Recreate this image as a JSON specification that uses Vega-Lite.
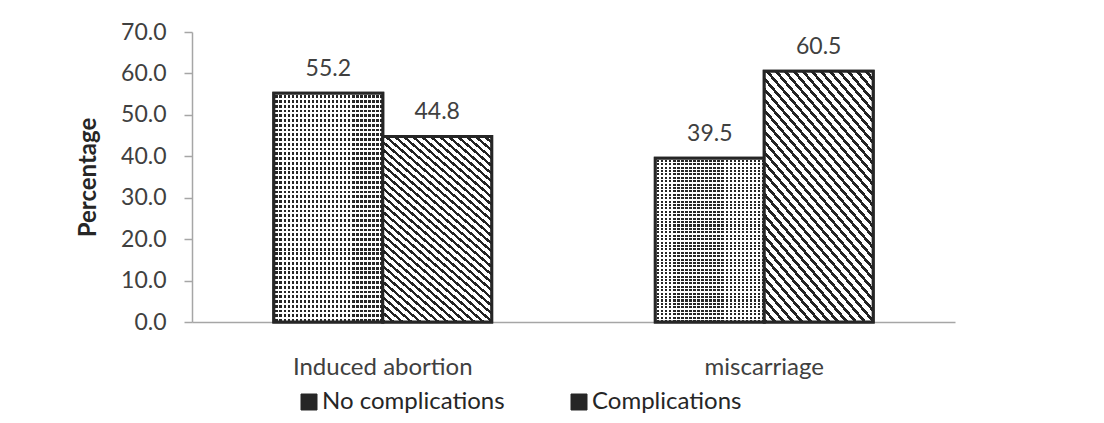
{
  "$schema": "https://vega.github.io/schema/vega-lite/v6.json",
  "width": 763,
  "height": 290,
  "autosize": "none",
  "padding": {"left": 192, "top": 32, "right": 149, "bottom": 101},
  "background": "#ffffff",
  "config": {"view": {"stroke": null}, "font": "Lato"},
  "data": {"values": [
    {"cat": "Induced abortion", "series": "No complications", "value": 55.2},
    {"cat": "Induced abortion", "series": "Complications", "value": 44.8},
    {"cat": "miscarriage", "series": "No complications", "value": 39.5},
    {"cat": "miscarriage", "series": "Complications", "value": 60.5}
  ]},
  "encoding": {
    "x": {"field": "cat", "type": "nominal", "sort": ["Induced abortion", "miscarriage"],
      "scale": {"paddingInner": 0.429, "paddingOuter": 0.2145},
      "axis": {"title": null, "labelAngle": 0, "ticks": false, "domainColor": "#a6a6a6", "domainWidth": 1.5,
        "labelFont": "Lato", "labelFontSize": 24, "labelColor": "#404040", "labelPadding": 33}},
    "xOffset": {"field": "series", "type": "nominal", "sort": ["No complications", "Complications"],
      "scale": {"domain": ["No complications", "Complications"], "paddingInner": 0, "paddingOuter": 0}},
    "y": {"field": "value", "type": "quantitative",
      "scale": {"domain": [0, 70], "nice": false},
      "axis": {"title": "Percentage", "values": [0, 10, 20, 30, 40, 50, 60, 70], "format": ".1f", "grid": false,
        "domainColor": "#a6a6a6", "tickColor": "#a6a6a6", "tickSize": 8, "domainWidth": 1.5, "tickWidth": 1.5,
        "labelFont": "Lato", "labelFontSize": 23, "labelColor": "#404040", "labelPadding": 18,
        "titleFont": "Lato", "titleFontSize": 24, "titleFontWeight": "bold", "titleColor": "#262626", "titlePadding": 20}}
  },
  "layer": [
    {
      "mark": {"type": "bar", "stroke": "#262626", "strokeWidth": 3, "strokeJoin": "miter"},
      "encoding": {
        "color": {"field": "series", "type": "nominal",
          "scale": {"domain": ["No complications", "Complications"], "range": ["#262626", "#262626"]},
          "legend": {"title": null, "orient": "none", "legendX": 105, "legendY": 358, "direction": "horizontal",
            "symbolType": "square", "symbolSize": 256, "symbolStrokeWidth": 1, "symbolStrokeColor": "#262626", "labelFont": "Lato", "labelFontSize": 24,
            "labelColor": "#262626", "labelOffset": 1, "columnPadding": 62, "padding": 0, "labelLimit": 400}
        }
      }
    },
    {
      "transform": [{"filter": "datum.series === 'No complications'"}],
      "mark": {"type": "bar", "strokeWidth": 0,
        "fill": {"gradient": "linear", "x1": 0, "y1": 0, "x2": 0, "y2": 1, "stops": [
          {"offset": 0, "color": "#ffffff"}, {"offset": 0.008333, "color": "#ffffff"}, {"offset": 0.008333, "color": "rgba(255,255,255,0)"}, {"offset": 0.020833, "color": "rgba(255,255,255,0)"},
          {"offset": 0.020833, "color": "#ffffff"}, {"offset": 0.029167, "color": "#ffffff"}, {"offset": 0.029167, "color": "rgba(255,255,255,0)"}, {"offset": 0.041667, "color": "rgba(255,255,255,0)"},
          {"offset": 0.041667, "color": "#ffffff"}, {"offset": 0.05, "color": "#ffffff"}, {"offset": 0.05, "color": "rgba(255,255,255,0)"}, {"offset": 0.0625, "color": "rgba(255,255,255,0)"},
          {"offset": 0.0625, "color": "#ffffff"}, {"offset": 0.070833, "color": "#ffffff"}, {"offset": 0.070833, "color": "rgba(255,255,255,0)"}, {"offset": 0.083333, "color": "rgba(255,255,255,0)"},
          {"offset": 0.083333, "color": "#ffffff"}, {"offset": 0.091667, "color": "#ffffff"}, {"offset": 0.091667, "color": "rgba(255,255,255,0)"}, {"offset": 0.104167, "color": "rgba(255,255,255,0)"},
          {"offset": 0.104167, "color": "#ffffff"}, {"offset": 0.1125, "color": "#ffffff"}, {"offset": 0.1125, "color": "rgba(255,255,255,0)"}, {"offset": 0.125, "color": "rgba(255,255,255,0)"},
          {"offset": 0.125, "color": "#ffffff"}, {"offset": 0.133333, "color": "#ffffff"}, {"offset": 0.133333, "color": "rgba(255,255,255,0)"}, {"offset": 0.145833, "color": "rgba(255,255,255,0)"},
          {"offset": 0.145833, "color": "#ffffff"}, {"offset": 0.154167, "color": "#ffffff"}, {"offset": 0.154167, "color": "rgba(255,255,255,0)"}, {"offset": 0.166667, "color": "rgba(255,255,255,0)"},
          {"offset": 0.166667, "color": "#ffffff"}, {"offset": 0.175, "color": "#ffffff"}, {"offset": 0.175, "color": "rgba(255,255,255,0)"}, {"offset": 0.1875, "color": "rgba(255,255,255,0)"},
          {"offset": 0.1875, "color": "#ffffff"}, {"offset": 0.195833, "color": "#ffffff"}, {"offset": 0.195833, "color": "rgba(255,255,255,0)"}, {"offset": 0.208333, "color": "rgba(255,255,255,0)"},
          {"offset": 0.208333, "color": "#ffffff"}, {"offset": 0.216667, "color": "#ffffff"}, {"offset": 0.216667, "color": "rgba(255,255,255,0)"}, {"offset": 0.229167, "color": "rgba(255,255,255,0)"},
          {"offset": 0.229167, "color": "#ffffff"}, {"offset": 0.2375, "color": "#ffffff"}, {"offset": 0.2375, "color": "rgba(255,255,255,0)"}, {"offset": 0.25, "color": "rgba(255,255,255,0)"},
          {"offset": 0.25, "color": "#ffffff"}, {"offset": 0.258333, "color": "#ffffff"}, {"offset": 0.258333, "color": "rgba(255,255,255,0)"}, {"offset": 0.270833, "color": "rgba(255,255,255,0)"},
          {"offset": 0.270833, "color": "#ffffff"}, {"offset": 0.279167, "color": "#ffffff"}, {"offset": 0.279167, "color": "rgba(255,255,255,0)"}, {"offset": 0.291667, "color": "rgba(255,255,255,0)"},
          {"offset": 0.291667, "color": "#ffffff"}, {"offset": 0.3, "color": "#ffffff"}, {"offset": 0.3, "color": "rgba(255,255,255,0)"}, {"offset": 0.3125, "color": "rgba(255,255,255,0)"},
          {"offset": 0.3125, "color": "#ffffff"}, {"offset": 0.320833, "color": "#ffffff"}, {"offset": 0.320833, "color": "rgba(255,255,255,0)"}, {"offset": 0.333333, "color": "rgba(255,255,255,0)"},
          {"offset": 0.333333, "color": "#ffffff"}, {"offset": 0.341667, "color": "#ffffff"}, {"offset": 0.341667, "color": "rgba(255,255,255,0)"}, {"offset": 0.354167, "color": "rgba(255,255,255,0)"},
          {"offset": 0.354167, "color": "#ffffff"}, {"offset": 0.3625, "color": "#ffffff"}, {"offset": 0.3625, "color": "rgba(255,255,255,0)"}, {"offset": 0.375, "color": "rgba(255,255,255,0)"},
          {"offset": 0.375, "color": "#ffffff"}, {"offset": 0.383333, "color": "#ffffff"}, {"offset": 0.383333, "color": "rgba(255,255,255,0)"}, {"offset": 0.395833, "color": "rgba(255,255,255,0)"},
          {"offset": 0.395833, "color": "#ffffff"}, {"offset": 0.404167, "color": "#ffffff"}, {"offset": 0.404167, "color": "rgba(255,255,255,0)"}, {"offset": 0.416667, "color": "rgba(255,255,255,0)"},
          {"offset": 0.416667, "color": "#ffffff"}, {"offset": 0.425, "color": "#ffffff"}, {"offset": 0.425, "color": "rgba(255,255,255,0)"}, {"offset": 0.4375, "color": "rgba(255,255,255,0)"},
          {"offset": 0.4375, "color": "#ffffff"}, {"offset": 0.445833, "color": "#ffffff"}, {"offset": 0.445833, "color": "rgba(255,255,255,0)"}, {"offset": 0.458333, "color": "rgba(255,255,255,0)"},
          {"offset": 0.458333, "color": "#ffffff"}, {"offset": 0.466667, "color": "#ffffff"}, {"offset": 0.466667, "color": "rgba(255,255,255,0)"}, {"offset": 0.479167, "color": "rgba(255,255,255,0)"},
          {"offset": 0.479167, "color": "#ffffff"}, {"offset": 0.4875, "color": "#ffffff"}, {"offset": 0.4875, "color": "rgba(255,255,255,0)"}, {"offset": 0.5, "color": "rgba(255,255,255,0)"},
          {"offset": 0.5, "color": "#ffffff"}, {"offset": 0.508333, "color": "#ffffff"}, {"offset": 0.508333, "color": "rgba(255,255,255,0)"}, {"offset": 0.520833, "color": "rgba(255,255,255,0)"},
          {"offset": 0.520833, "color": "#ffffff"}, {"offset": 0.529167, "color": "#ffffff"}, {"offset": 0.529167, "color": "rgba(255,255,255,0)"}, {"offset": 0.541667, "color": "rgba(255,255,255,0)"},
          {"offset": 0.541667, "color": "#ffffff"}, {"offset": 0.55, "color": "#ffffff"}, {"offset": 0.55, "color": "rgba(255,255,255,0)"}, {"offset": 0.5625, "color": "rgba(255,255,255,0)"},
          {"offset": 0.5625, "color": "#ffffff"}, {"offset": 0.570833, "color": "#ffffff"}, {"offset": 0.570833, "color": "rgba(255,255,255,0)"}, {"offset": 0.583333, "color": "rgba(255,255,255,0)"},
          {"offset": 0.583333, "color": "#ffffff"}, {"offset": 0.591667, "color": "#ffffff"}, {"offset": 0.591667, "color": "rgba(255,255,255,0)"}, {"offset": 0.604167, "color": "rgba(255,255,255,0)"},
          {"offset": 0.604167, "color": "#ffffff"}, {"offset": 0.6125, "color": "#ffffff"}, {"offset": 0.6125, "color": "rgba(255,255,255,0)"}, {"offset": 0.625, "color": "rgba(255,255,255,0)"},
          {"offset": 0.625, "color": "#ffffff"}, {"offset": 0.633333, "color": "#ffffff"}, {"offset": 0.633333, "color": "rgba(255,255,255,0)"}, {"offset": 0.645833, "color": "rgba(255,255,255,0)"},
          {"offset": 0.645833, "color": "#ffffff"}, {"offset": 0.654167, "color": "#ffffff"}, {"offset": 0.654167, "color": "rgba(255,255,255,0)"}, {"offset": 0.666667, "color": "rgba(255,255,255,0)"},
          {"offset": 0.666667, "color": "#ffffff"}, {"offset": 0.675, "color": "#ffffff"}, {"offset": 0.675, "color": "rgba(255,255,255,0)"}, {"offset": 0.6875, "color": "rgba(255,255,255,0)"},
          {"offset": 0.6875, "color": "#ffffff"}, {"offset": 0.695833, "color": "#ffffff"}, {"offset": 0.695833, "color": "rgba(255,255,255,0)"}, {"offset": 0.708333, "color": "rgba(255,255,255,0)"},
          {"offset": 0.708333, "color": "#ffffff"}, {"offset": 0.716667, "color": "#ffffff"}, {"offset": 0.716667, "color": "rgba(255,255,255,0)"}, {"offset": 0.729167, "color": "rgba(255,255,255,0)"},
          {"offset": 0.729167, "color": "#ffffff"}, {"offset": 0.7375, "color": "#ffffff"}, {"offset": 0.7375, "color": "rgba(255,255,255,0)"}, {"offset": 0.75, "color": "rgba(255,255,255,0)"},
          {"offset": 0.75, "color": "#ffffff"}, {"offset": 0.758333, "color": "#ffffff"}, {"offset": 0.758333, "color": "rgba(255,255,255,0)"}, {"offset": 0.770833, "color": "rgba(255,255,255,0)"},
          {"offset": 0.770833, "color": "#ffffff"}, {"offset": 0.779167, "color": "#ffffff"}, {"offset": 0.779167, "color": "rgba(255,255,255,0)"}, {"offset": 0.791667, "color": "rgba(255,255,255,0)"},
          {"offset": 0.791667, "color": "#ffffff"}, {"offset": 0.8, "color": "#ffffff"}, {"offset": 0.8, "color": "rgba(255,255,255,0)"}, {"offset": 0.8125, "color": "rgba(255,255,255,0)"},
          {"offset": 0.8125, "color": "#ffffff"}, {"offset": 0.820833, "color": "#ffffff"}, {"offset": 0.820833, "color": "rgba(255,255,255,0)"}, {"offset": 0.833333, "color": "rgba(255,255,255,0)"},
          {"offset": 0.833333, "color": "#ffffff"}, {"offset": 0.841667, "color": "#ffffff"}, {"offset": 0.841667, "color": "rgba(255,255,255,0)"}, {"offset": 0.854167, "color": "rgba(255,255,255,0)"},
          {"offset": 0.854167, "color": "#ffffff"}, {"offset": 0.8625, "color": "#ffffff"}, {"offset": 0.8625, "color": "rgba(255,255,255,0)"}, {"offset": 0.875, "color": "rgba(255,255,255,0)"},
          {"offset": 0.875, "color": "#ffffff"}, {"offset": 0.883333, "color": "#ffffff"}, {"offset": 0.883333, "color": "rgba(255,255,255,0)"}, {"offset": 0.895833, "color": "rgba(255,255,255,0)"},
          {"offset": 0.895833, "color": "#ffffff"}, {"offset": 0.904167, "color": "#ffffff"}, {"offset": 0.904167, "color": "rgba(255,255,255,0)"}, {"offset": 0.916667, "color": "rgba(255,255,255,0)"},
          {"offset": 0.916667, "color": "#ffffff"}, {"offset": 0.925, "color": "#ffffff"}, {"offset": 0.925, "color": "rgba(255,255,255,0)"}, {"offset": 0.9375, "color": "rgba(255,255,255,0)"},
          {"offset": 0.9375, "color": "#ffffff"}, {"offset": 0.945833, "color": "#ffffff"}, {"offset": 0.945833, "color": "rgba(255,255,255,0)"}, {"offset": 0.958333, "color": "rgba(255,255,255,0)"},
          {"offset": 0.958333, "color": "#ffffff"}, {"offset": 0.966667, "color": "#ffffff"}, {"offset": 0.966667, "color": "rgba(255,255,255,0)"}, {"offset": 0.979167, "color": "rgba(255,255,255,0)"},
          {"offset": 0.979167, "color": "#ffffff"}, {"offset": 0.9875, "color": "#ffffff"}, {"offset": 0.9875, "color": "rgba(255,255,255,0)"}, {"offset": 1, "color": "rgba(255,255,255,0)"}
        ]}}
    },
    {
      "transform": [{"filter": "datum.series === 'No complications'"}],
      "mark": {"type": "bar", "stroke": "#262626", "strokeWidth": 3, "strokeJoin": "miter",
        "fill": {"gradient": "linear", "x1": 0, "y1": 0, "x2": 1, "y2": 0, "stops": [
          {"offset": 0, "color": "#ffffff"}, {"offset": 0.014815, "color": "#ffffff"}, {"offset": 0.014815, "color": "rgba(255,255,255,0)"}, {"offset": 0.037037, "color": "rgba(255,255,255,0)"},
          {"offset": 0.037037, "color": "#ffffff"}, {"offset": 0.051852, "color": "#ffffff"}, {"offset": 0.051852, "color": "rgba(255,255,255,0)"}, {"offset": 0.074074, "color": "rgba(255,255,255,0)"},
          {"offset": 0.074074, "color": "#ffffff"}, {"offset": 0.088889, "color": "#ffffff"}, {"offset": 0.088889, "color": "rgba(255,255,255,0)"}, {"offset": 0.111111, "color": "rgba(255,255,255,0)"},
          {"offset": 0.111111, "color": "#ffffff"}, {"offset": 0.125926, "color": "#ffffff"}, {"offset": 0.125926, "color": "rgba(255,255,255,0)"}, {"offset": 0.148148, "color": "rgba(255,255,255,0)"},
          {"offset": 0.148148, "color": "#ffffff"}, {"offset": 0.162963, "color": "#ffffff"}, {"offset": 0.162963, "color": "rgba(255,255,255,0)"}, {"offset": 0.185185, "color": "rgba(255,255,255,0)"},
          {"offset": 0.185185, "color": "#ffffff"}, {"offset": 0.2, "color": "#ffffff"}, {"offset": 0.2, "color": "rgba(255,255,255,0)"}, {"offset": 0.222222, "color": "rgba(255,255,255,0)"},
          {"offset": 0.222222, "color": "#ffffff"}, {"offset": 0.237037, "color": "#ffffff"}, {"offset": 0.237037, "color": "rgba(255,255,255,0)"}, {"offset": 0.259259, "color": "rgba(255,255,255,0)"},
          {"offset": 0.259259, "color": "#ffffff"}, {"offset": 0.274074, "color": "#ffffff"}, {"offset": 0.274074, "color": "rgba(255,255,255,0)"}, {"offset": 0.296296, "color": "rgba(255,255,255,0)"},
          {"offset": 0.296296, "color": "#ffffff"}, {"offset": 0.311111, "color": "#ffffff"}, {"offset": 0.311111, "color": "rgba(255,255,255,0)"}, {"offset": 0.333333, "color": "rgba(255,255,255,0)"},
          {"offset": 0.333333, "color": "#ffffff"}, {"offset": 0.348148, "color": "#ffffff"}, {"offset": 0.348148, "color": "rgba(255,255,255,0)"}, {"offset": 0.37037, "color": "rgba(255,255,255,0)"},
          {"offset": 0.37037, "color": "#ffffff"}, {"offset": 0.385185, "color": "#ffffff"}, {"offset": 0.385185, "color": "rgba(255,255,255,0)"}, {"offset": 0.407407, "color": "rgba(255,255,255,0)"},
          {"offset": 0.407407, "color": "#ffffff"}, {"offset": 0.422222, "color": "#ffffff"}, {"offset": 0.422222, "color": "rgba(255,255,255,0)"}, {"offset": 0.444444, "color": "rgba(255,255,255,0)"},
          {"offset": 0.444444, "color": "#ffffff"}, {"offset": 0.459259, "color": "#ffffff"}, {"offset": 0.459259, "color": "rgba(255,255,255,0)"}, {"offset": 0.481481, "color": "rgba(255,255,255,0)"},
          {"offset": 0.481481, "color": "#ffffff"}, {"offset": 0.496296, "color": "#ffffff"}, {"offset": 0.496296, "color": "rgba(255,255,255,0)"}, {"offset": 0.518519, "color": "rgba(255,255,255,0)"},
          {"offset": 0.518519, "color": "#ffffff"}, {"offset": 0.533333, "color": "#ffffff"}, {"offset": 0.533333, "color": "rgba(255,255,255,0)"}, {"offset": 0.555556, "color": "rgba(255,255,255,0)"},
          {"offset": 0.555556, "color": "#ffffff"}, {"offset": 0.57037, "color": "#ffffff"}, {"offset": 0.57037, "color": "rgba(255,255,255,0)"}, {"offset": 0.592593, "color": "rgba(255,255,255,0)"},
          {"offset": 0.592593, "color": "#ffffff"}, {"offset": 0.607407, "color": "#ffffff"}, {"offset": 0.607407, "color": "rgba(255,255,255,0)"}, {"offset": 0.62963, "color": "rgba(255,255,255,0)"},
          {"offset": 0.62963, "color": "#ffffff"}, {"offset": 0.644444, "color": "#ffffff"}, {"offset": 0.644444, "color": "rgba(255,255,255,0)"}, {"offset": 0.666667, "color": "rgba(255,255,255,0)"},
          {"offset": 0.666667, "color": "#ffffff"}, {"offset": 0.681481, "color": "#ffffff"}, {"offset": 0.681481, "color": "rgba(255,255,255,0)"}, {"offset": 0.703704, "color": "rgba(255,255,255,0)"},
          {"offset": 0.703704, "color": "#ffffff"}, {"offset": 0.718519, "color": "#ffffff"}, {"offset": 0.718519, "color": "rgba(255,255,255,0)"}, {"offset": 0.740741, "color": "rgba(255,255,255,0)"},
          {"offset": 0.740741, "color": "#ffffff"}, {"offset": 0.755556, "color": "#ffffff"}, {"offset": 0.755556, "color": "rgba(255,255,255,0)"}, {"offset": 0.777778, "color": "rgba(255,255,255,0)"},
          {"offset": 0.777778, "color": "#ffffff"}, {"offset": 0.792593, "color": "#ffffff"}, {"offset": 0.792593, "color": "rgba(255,255,255,0)"}, {"offset": 0.814815, "color": "rgba(255,255,255,0)"},
          {"offset": 0.814815, "color": "#ffffff"}, {"offset": 0.82963, "color": "#ffffff"}, {"offset": 0.82963, "color": "rgba(255,255,255,0)"}, {"offset": 0.851852, "color": "rgba(255,255,255,0)"},
          {"offset": 0.851852, "color": "#ffffff"}, {"offset": 0.866667, "color": "#ffffff"}, {"offset": 0.866667, "color": "rgba(255,255,255,0)"}, {"offset": 0.888889, "color": "rgba(255,255,255,0)"},
          {"offset": 0.888889, "color": "#ffffff"}, {"offset": 0.903704, "color": "#ffffff"}, {"offset": 0.903704, "color": "rgba(255,255,255,0)"}, {"offset": 0.925926, "color": "rgba(255,255,255,0)"},
          {"offset": 0.925926, "color": "#ffffff"}, {"offset": 0.940741, "color": "#ffffff"}, {"offset": 0.940741, "color": "rgba(255,255,255,0)"}, {"offset": 0.962963, "color": "rgba(255,255,255,0)"},
          {"offset": 0.962963, "color": "#ffffff"}, {"offset": 0.977778, "color": "#ffffff"}, {"offset": 0.977778, "color": "rgba(255,255,255,0)"}, {"offset": 1, "color": "rgba(255,255,255,0)"}
        ]}}
    },
    {
      "transform": [{"filter": "datum.series === 'Complications'"}],
      "mark": {"type": "bar", "stroke": "#262626", "strokeWidth": 3, "strokeJoin": "miter",
        "fill": {"gradient": "linear", "x1": 0, "y1": 1, "x2": 0.608, "y2": -0.199, "stops": [
          {"offset": 0, "color": "#222222"}, {"offset": 0.011111, "color": "#222222"}, {"offset": 0.011111, "color": "#ffffff"}, {"offset": 0.027778, "color": "#ffffff"},
          {"offset": 0.027778, "color": "#222222"}, {"offset": 0.038889, "color": "#222222"}, {"offset": 0.038889, "color": "#ffffff"}, {"offset": 0.055556, "color": "#ffffff"},
          {"offset": 0.055556, "color": "#222222"}, {"offset": 0.066667, "color": "#222222"}, {"offset": 0.066667, "color": "#ffffff"}, {"offset": 0.083333, "color": "#ffffff"},
          {"offset": 0.083333, "color": "#222222"}, {"offset": 0.094444, "color": "#222222"}, {"offset": 0.094444, "color": "#ffffff"}, {"offset": 0.111111, "color": "#ffffff"},
          {"offset": 0.111111, "color": "#222222"}, {"offset": 0.122222, "color": "#222222"}, {"offset": 0.122222, "color": "#ffffff"}, {"offset": 0.138889, "color": "#ffffff"},
          {"offset": 0.138889, "color": "#222222"}, {"offset": 0.15, "color": "#222222"}, {"offset": 0.15, "color": "#ffffff"}, {"offset": 0.166667, "color": "#ffffff"},
          {"offset": 0.166667, "color": "#222222"}, {"offset": 0.177778, "color": "#222222"}, {"offset": 0.177778, "color": "#ffffff"}, {"offset": 0.194444, "color": "#ffffff"},
          {"offset": 0.194444, "color": "#222222"}, {"offset": 0.205556, "color": "#222222"}, {"offset": 0.205556, "color": "#ffffff"}, {"offset": 0.222222, "color": "#ffffff"},
          {"offset": 0.222222, "color": "#222222"}, {"offset": 0.233333, "color": "#222222"}, {"offset": 0.233333, "color": "#ffffff"}, {"offset": 0.25, "color": "#ffffff"},
          {"offset": 0.25, "color": "#222222"}, {"offset": 0.261111, "color": "#222222"}, {"offset": 0.261111, "color": "#ffffff"}, {"offset": 0.277778, "color": "#ffffff"},
          {"offset": 0.277778, "color": "#222222"}, {"offset": 0.288889, "color": "#222222"}, {"offset": 0.288889, "color": "#ffffff"}, {"offset": 0.305556, "color": "#ffffff"},
          {"offset": 0.305556, "color": "#222222"}, {"offset": 0.316667, "color": "#222222"}, {"offset": 0.316667, "color": "#ffffff"}, {"offset": 0.333333, "color": "#ffffff"},
          {"offset": 0.333333, "color": "#222222"}, {"offset": 0.344444, "color": "#222222"}, {"offset": 0.344444, "color": "#ffffff"}, {"offset": 0.361111, "color": "#ffffff"},
          {"offset": 0.361111, "color": "#222222"}, {"offset": 0.372222, "color": "#222222"}, {"offset": 0.372222, "color": "#ffffff"}, {"offset": 0.388889, "color": "#ffffff"},
          {"offset": 0.388889, "color": "#222222"}, {"offset": 0.4, "color": "#222222"}, {"offset": 0.4, "color": "#ffffff"}, {"offset": 0.416667, "color": "#ffffff"},
          {"offset": 0.416667, "color": "#222222"}, {"offset": 0.427778, "color": "#222222"}, {"offset": 0.427778, "color": "#ffffff"}, {"offset": 0.444444, "color": "#ffffff"},
          {"offset": 0.444444, "color": "#222222"}, {"offset": 0.455556, "color": "#222222"}, {"offset": 0.455556, "color": "#ffffff"}, {"offset": 0.472222, "color": "#ffffff"},
          {"offset": 0.472222, "color": "#222222"}, {"offset": 0.483333, "color": "#222222"}, {"offset": 0.483333, "color": "#ffffff"}, {"offset": 0.5, "color": "#ffffff"},
          {"offset": 0.5, "color": "#222222"}, {"offset": 0.511111, "color": "#222222"}, {"offset": 0.511111, "color": "#ffffff"}, {"offset": 0.527778, "color": "#ffffff"},
          {"offset": 0.527778, "color": "#222222"}, {"offset": 0.538889, "color": "#222222"}, {"offset": 0.538889, "color": "#ffffff"}, {"offset": 0.555556, "color": "#ffffff"},
          {"offset": 0.555556, "color": "#222222"}, {"offset": 0.566667, "color": "#222222"}, {"offset": 0.566667, "color": "#ffffff"}, {"offset": 0.583333, "color": "#ffffff"},
          {"offset": 0.583333, "color": "#222222"}, {"offset": 0.594444, "color": "#222222"}, {"offset": 0.594444, "color": "#ffffff"}, {"offset": 0.611111, "color": "#ffffff"},
          {"offset": 0.611111, "color": "#222222"}, {"offset": 0.622222, "color": "#222222"}, {"offset": 0.622222, "color": "#ffffff"}, {"offset": 0.638889, "color": "#ffffff"},
          {"offset": 0.638889, "color": "#222222"}, {"offset": 0.65, "color": "#222222"}, {"offset": 0.65, "color": "#ffffff"}, {"offset": 0.666667, "color": "#ffffff"},
          {"offset": 0.666667, "color": "#222222"}, {"offset": 0.677778, "color": "#222222"}, {"offset": 0.677778, "color": "#ffffff"}, {"offset": 0.694444, "color": "#ffffff"},
          {"offset": 0.694444, "color": "#222222"}, {"offset": 0.705556, "color": "#222222"}, {"offset": 0.705556, "color": "#ffffff"}, {"offset": 0.722222, "color": "#ffffff"},
          {"offset": 0.722222, "color": "#222222"}, {"offset": 0.733333, "color": "#222222"}, {"offset": 0.733333, "color": "#ffffff"}, {"offset": 0.75, "color": "#ffffff"},
          {"offset": 0.75, "color": "#222222"}, {"offset": 0.761111, "color": "#222222"}, {"offset": 0.761111, "color": "#ffffff"}, {"offset": 0.777778, "color": "#ffffff"},
          {"offset": 0.777778, "color": "#222222"}, {"offset": 0.788889, "color": "#222222"}, {"offset": 0.788889, "color": "#ffffff"}, {"offset": 0.805556, "color": "#ffffff"},
          {"offset": 0.805556, "color": "#222222"}, {"offset": 0.816667, "color": "#222222"}, {"offset": 0.816667, "color": "#ffffff"}, {"offset": 0.833333, "color": "#ffffff"},
          {"offset": 0.833333, "color": "#222222"}, {"offset": 0.844444, "color": "#222222"}, {"offset": 0.844444, "color": "#ffffff"}, {"offset": 0.861111, "color": "#ffffff"},
          {"offset": 0.861111, "color": "#222222"}, {"offset": 0.872222, "color": "#222222"}, {"offset": 0.872222, "color": "#ffffff"}, {"offset": 0.888889, "color": "#ffffff"},
          {"offset": 0.888889, "color": "#222222"}, {"offset": 0.9, "color": "#222222"}, {"offset": 0.9, "color": "#ffffff"}, {"offset": 0.916667, "color": "#ffffff"},
          {"offset": 0.916667, "color": "#222222"}, {"offset": 0.927778, "color": "#222222"}, {"offset": 0.927778, "color": "#ffffff"}, {"offset": 0.944444, "color": "#ffffff"},
          {"offset": 0.944444, "color": "#222222"}, {"offset": 0.955556, "color": "#222222"}, {"offset": 0.955556, "color": "#ffffff"}, {"offset": 0.972222, "color": "#ffffff"},
          {"offset": 0.972222, "color": "#222222"}, {"offset": 0.983333, "color": "#222222"}, {"offset": 0.983333, "color": "#ffffff"}, {"offset": 1, "color": "#ffffff"}
        ]}}
    },
    {
      "mark": {"type": "text", "dy": -24, "baseline": "middle", "align": "center", "font": "Lato", "fontSize": 23, "color": "#404040"},
      "encoding": {"text": {"field": "value", "type": "quantitative", "format": ".1f"}}
    }
  ]
}
